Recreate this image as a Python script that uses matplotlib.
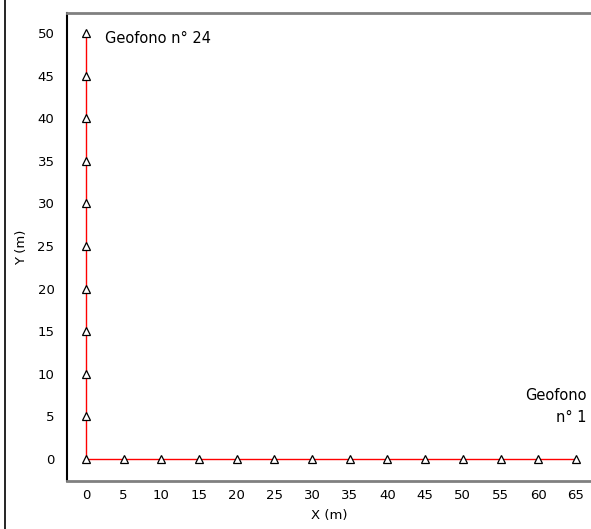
import matplotlib
matplotlib.use("Agg")
import matplotlib.pyplot as plt
from matplotlib.lines import Line2D

# Geophone positions (n° 1 at X=65 along the X line, n° 24 at top of the Y line)
geo_x = [65, 60, 55, 50, 45, 40, 35, 30, 25, 20, 15, 10, 5, 0,
         0, 0, 0, 0, 0, 0, 0, 0, 0, 0]
geo_y = [0, 0, 0, 0, 0, 0, 0, 0, 0, 0, 0, 0, 0, 0,
         5, 10, 15, 20, 25, 30, 35, 40, 45, 50]
x_ticks = [0, 5, 10, 15, 20, 25, 30, 35, 40, 45, 50, 55, 60, 65]
y_ticks = [0, 5, 10, 15, 20, 25, 30, 35, 40, 45, 50]
label_first = "Geofono\nn° 1"
label_last = "Geofono n° 24"

plt.rcParams['font.family'] = ['DejaVu Sans']
fig = plt.figure(figsize=(5.91, 5.29), dpi=100)
ax = fig.add_axes([67/591, 1-481/529, 1-67/591, (481-13)/529])

ax.plot(geo_x, geo_y, color='red', lw=1.0, zorder=2)
ax.plot(geo_x, geo_y, ls='none', marker='^', ms=6, mfc='white', mec='black',
        mew=0.9, zorder=3)

ax.set_xlim(-2.52, 67.0)
ax.set_ylim(-2.58, 52.35)
ax.set_xticks(x_ticks)
ax.set_yticks(y_ticks)
ax.tick_params(length=0, labelsize=9.5)
ax.tick_params(axis='y', pad=9)
ax.tick_params(axis='x', pad=6)
ax.spines['left'].set_color('black')
ax.spines['left'].set_linewidth(1.5)
ax.spines['bottom'].set_color('#808080')
ax.spines['bottom'].set_linewidth(2)
ax.spines['top'].set_color('#808080')
ax.spines['top'].set_linewidth(2)
ax.spines['right'].set_visible(False)

ax.set_xlabel('X (m)', fontsize=9.5, labelpad=5)
ax.set_ylabel('Y (m)', fontsize=9.5, labelpad=7)

ax.text(2.5, 49.4, label_last, fontsize=10.5, ha='left', va='center')
ax.text(66.4, 6.2, label_first, fontsize=10.5, ha='right', va='center',
        multialignment='right', linespacing=1.6)

fig.add_artist(Line2D([4.5/591, 4.5/591], [0, 1], transform=fig.transFigure,
                      color='black', lw=1.2))

fig.savefig('out.png', dpi=100)
